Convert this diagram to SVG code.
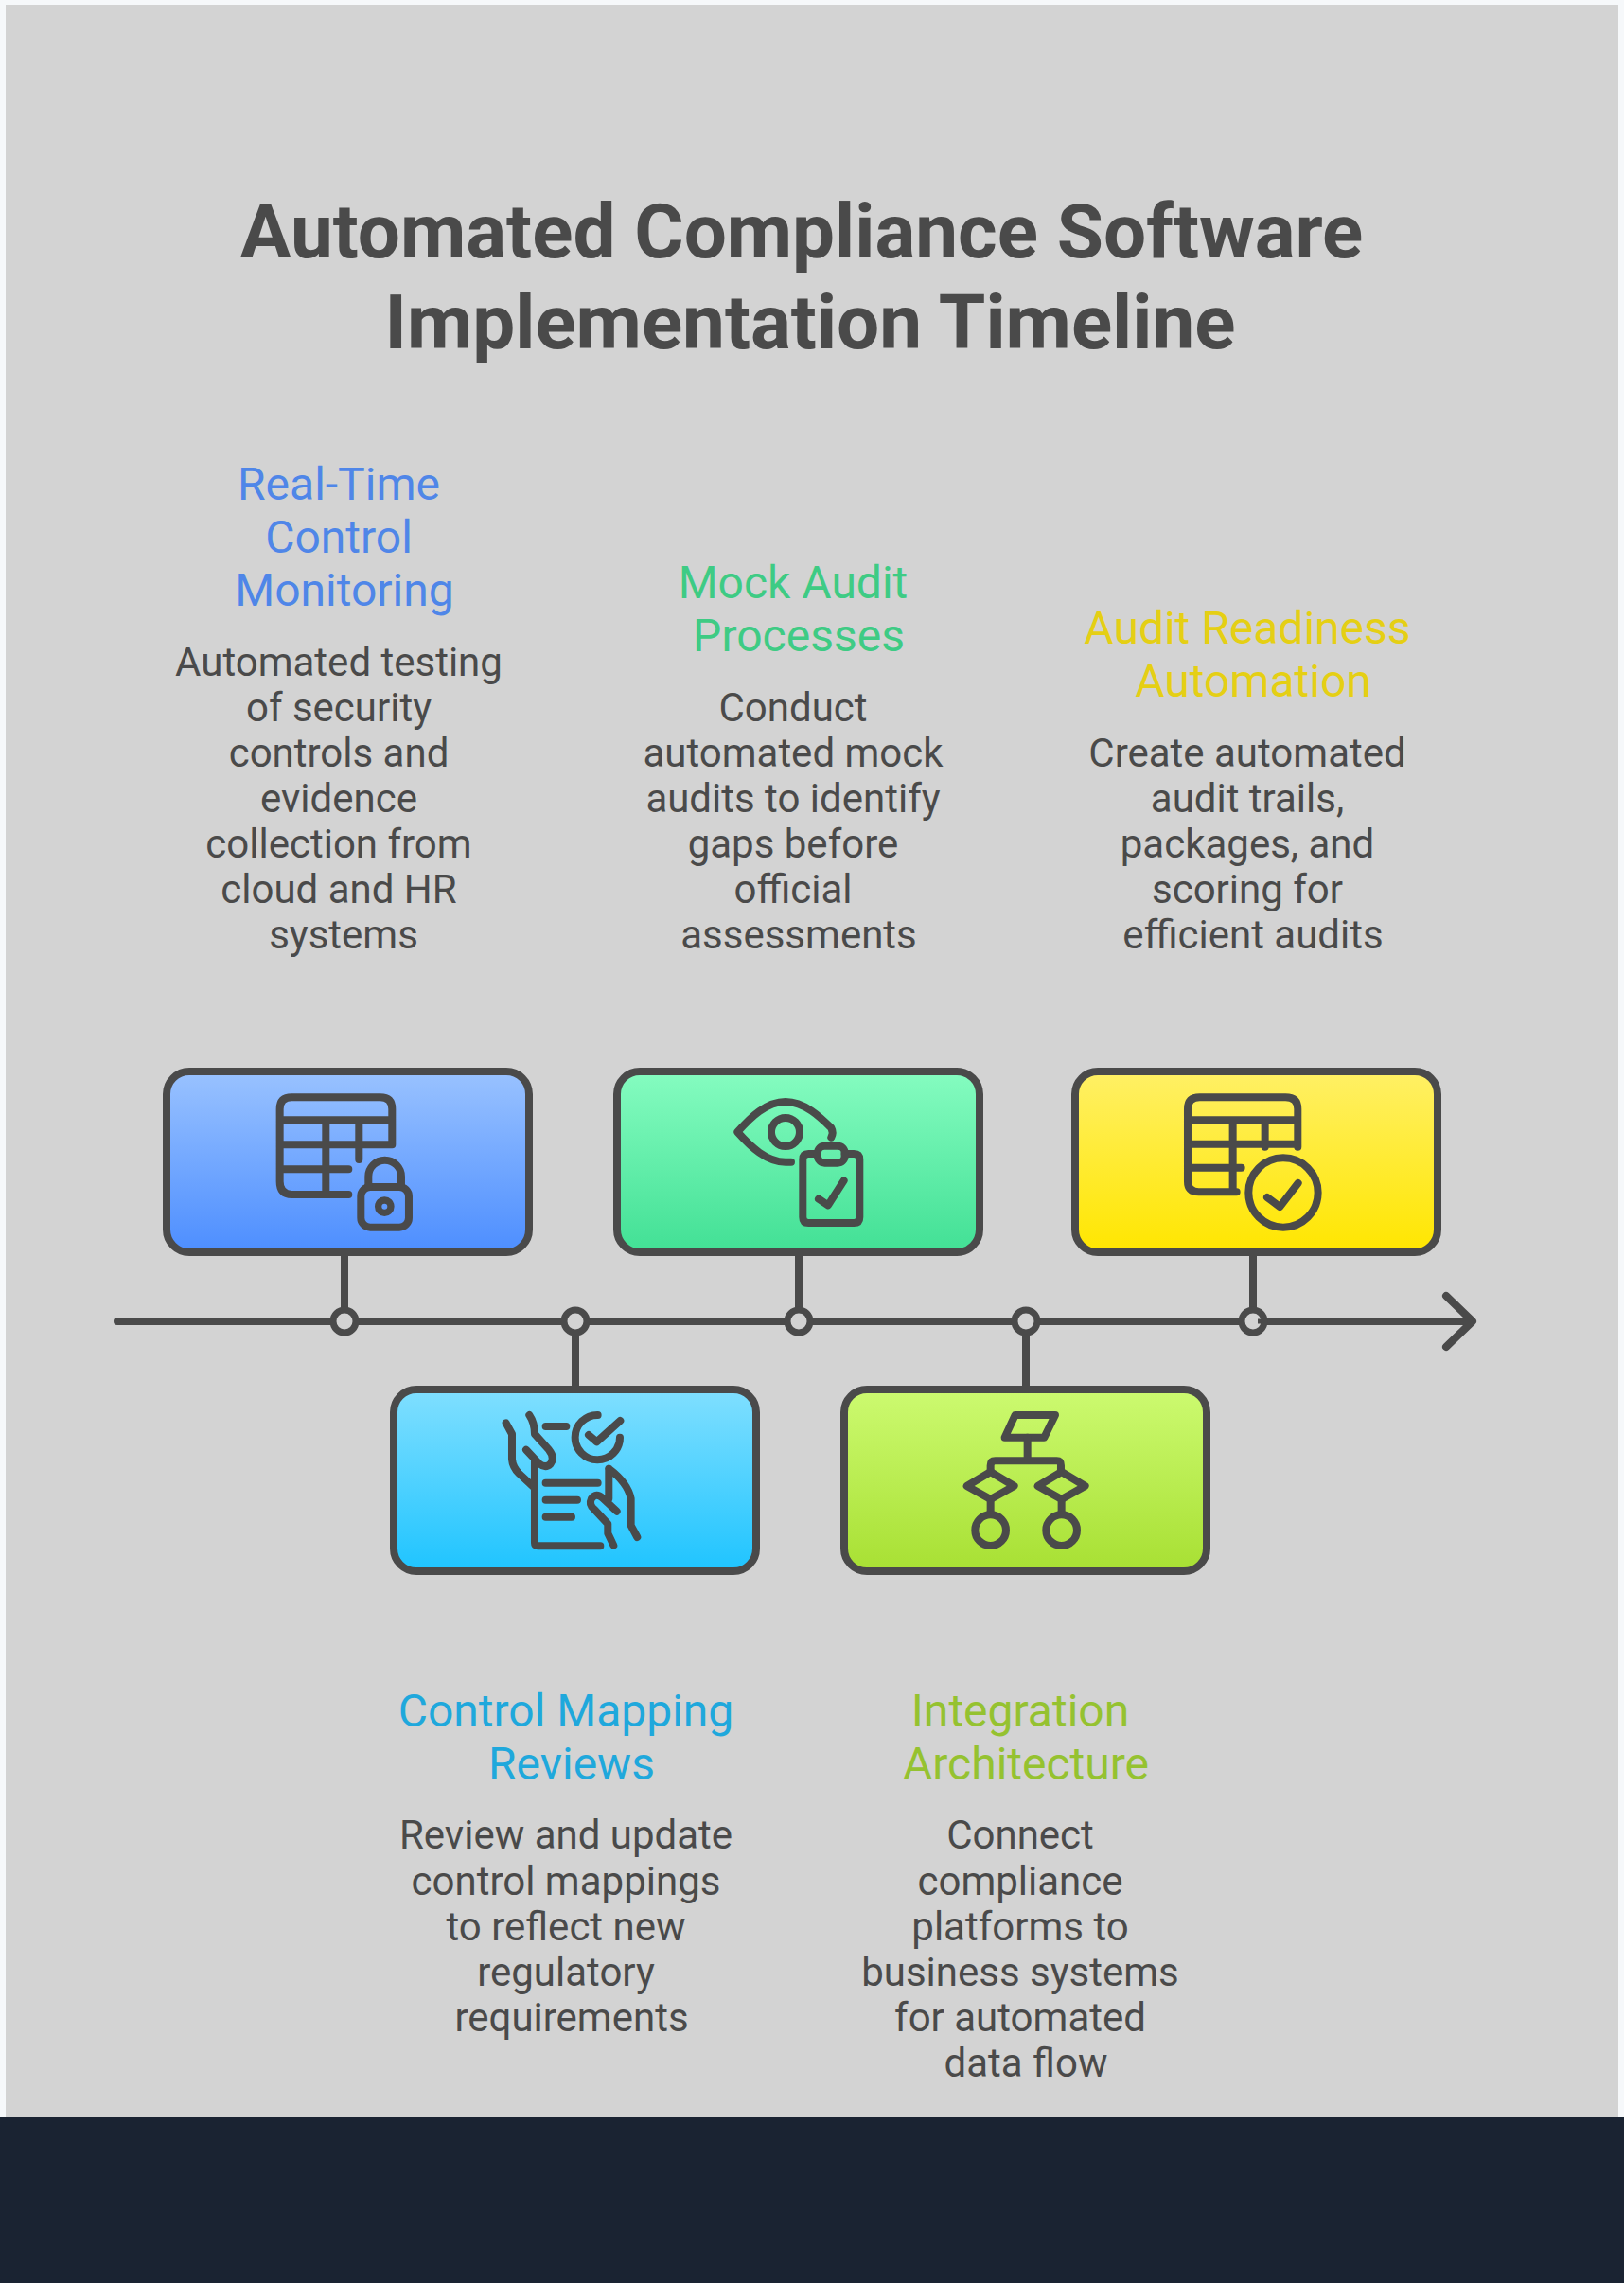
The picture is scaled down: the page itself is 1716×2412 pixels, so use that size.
<svg xmlns="http://www.w3.org/2000/svg" width="1716" height="2412" viewBox="0 0 1716 2412">
<style>
text{font-family:Roboto,"Liberation Sans",sans-serif;text-anchor:middle}
.title{font-size:80px;font-weight:700;fill:#4a4a4a}
.h{font-size:48px}
.b{font-size:42px;fill:#4a4a4a}
.box{stroke:#4a4a4a;stroke-width:8}
.ic{fill:none;stroke:#4a4a4a;stroke-width:24;stroke-linecap:round;stroke-linejoin:round}
.ln{fill:none;stroke:#4a4a4a;stroke-width:8;stroke-linecap:round;stroke-linejoin:round}
.dot{fill:#d3d3d3;stroke:#4a4a4a;stroke-width:7}
</style>
<defs>
<linearGradient id="gb" x1="0" y1="0" x2="0" y2="1"><stop offset="0" stop-color="#99c2ff"/><stop offset="1" stop-color="#4d8eff"/></linearGradient>
<linearGradient id="gg" x1="0" y1="0" x2="0" y2="1"><stop offset="0" stop-color="#85fcc0"/><stop offset="1" stop-color="#42e095"/></linearGradient>
<linearGradient id="gy" x1="0" y1="0" x2="0" y2="1"><stop offset="0" stop-color="#fff065"/><stop offset="1" stop-color="#ffe600"/></linearGradient>
<linearGradient id="gc" x1="0" y1="0" x2="0" y2="1"><stop offset="0" stop-color="#80dfff"/><stop offset="1" stop-color="#1fc4ff"/></linearGradient>
<linearGradient id="gl" x1="0" y1="0" x2="0" y2="1"><stop offset="0" stop-color="#ccfa70"/><stop offset="1" stop-color="#a8e033"/></linearGradient>
</defs>
<rect width="1716" height="2412" fill="#f6f8fa"/>
<rect x="6" y="5" width="1704" height="2235" fill="#d3d3d3"/>
<rect y="2237" width="1716" height="175" fill="#1a2332"/>
<g id="title">
<text class="title" x="847" y="272">Automated Compliance Software</text>
<text class="title" x="856" y="368">Implementation Timeline</text>
</g>
<g id="connectors">
<path class="ln" d="M124 1396H1555M1528 1369L1556 1396L1528 1423"/>
<path class="ln" d="M364 1325V1384M844 1325V1384M1324 1325V1384M608 1408V1466M1084 1408V1466"/>
</g>
<g id="dots">
<circle class="dot" cx="364" cy="1396" r="12"/>
<circle class="dot" cx="608" cy="1396" r="12"/>
<circle class="dot" cx="844" cy="1396" r="12"/>
<circle class="dot" cx="1084" cy="1396" r="12"/>
<circle class="dot" cx="1324" cy="1396" r="12"/>
<path d="M1329 1396H1336" stroke="#4a4a4a" stroke-width="5"/>
</g>
<g id="node-realtime">
<text class="h" fill="#4f86e8" x="358" y="528">Real-Time</text>
<text class="h" fill="#4f86e8" x="358" y="584">Control</text>
<text class="h" fill="#4f86e8" x="364" y="640">Monitoring</text>
<text class="b" x="358" y="714">Automated testing</text>
<text class="b" x="358" y="762">of security</text>
<text class="b" x="358" y="810">controls and</text>
<text class="b" x="358" y="858">evidence</text>
<text class="b" x="358" y="906">collection from</text>
<text class="b" x="358" y="954">cloud and HR</text>
<text class="b" x="363" y="1002">systems</text>
<rect class="box" x="176" y="1132" width="383" height="191" rx="24" fill="url(#gb)"/>
<g class="ic" transform="translate(100 1080) scale(.3333)">
<path d="M805 546H625Q587 546 587 505V275Q587 238 625 238H905Q943 238 943 275V388H587M587 310H943M587 466H805M733 310V546M838 310V435"/>
<rect x="844" y="522" width="152" height="128" rx="30"/>
<path d="M868 522V489A52 52 0 0 1 972 489V522"/>
<circle cx="919" cy="584" r="20" stroke-width="22"/>
</g>
</g>
<g id="node-mock">
<text class="h" fill="#3ecb84" x="838" y="632">Mock Audit</text>
<text class="h" fill="#3ecb84" x="844" y="688">Processes</text>
<text class="b" x="838" y="762">Conduct</text>
<text class="b" x="838" y="810">automated mock</text>
<text class="b" x="838" y="858">audits to identify</text>
<text class="b" x="838" y="906">gaps before</text>
<text class="b" x="838" y="954">official</text>
<text class="b" x="844" y="1002">assessments</text>
<rect class="box" x="652" y="1132" width="383" height="191" rx="24" fill="url(#gg)"/>
<g class="ic" transform="translate(600 1080) scale(.3333)">
<path d="M708 443H690C630 443 580 395 538 348C580 300 630 252 690 252C750 252 800 300 835 335Q843 350 835 365"/>
<circle cx="690" cy="348" r="45"/>
<path d="M792 417H763Q745 417 745 435V618Q745 636 763 636H907Q925 636 925 618V435Q925 417 907 417H878"/>
<rect x="792" y="392" width="86" height="54" rx="22"/>
<path d="M795 560L825 580L875 502"/>
</g>
</g>
<g id="node-readiness">
<text class="h" fill="#e5cf14" x="1318" y="680">Audit Readiness</text>
<text class="h" fill="#e5cf14" x="1324" y="736">Automation</text>
<text class="b" x="1318" y="810">Create automated</text>
<text class="b" x="1318" y="858">audit trails,</text>
<text class="b" x="1318" y="906">packages, and</text>
<text class="b" x="1318" y="954">scoring for</text>
<text class="b" x="1324" y="1002">efficient audits</text>
<rect class="box" x="1136" y="1132" width="383" height="191" rx="24" fill="url(#gy)"/>
<g class="ic" transform="translate(1100 1080) scale(.3333)">
<path d="M620 538H500Q465 538 465 505V275Q465 238 503 238H775Q814 238 814 275V395M465 310H814M465 386H814M465 461H635M608 310V538M710 310V395"/>
<circle cx="768" cy="540" r="110"/>
<path d="M717 555L757 585L815 510"/>
</g>
</g>
<g id="node-mapping">
<rect class="box" x="416" y="1468" width="383" height="192" rx="24" fill="url(#gc)"/>
<g class="ic" transform="translate(400 1420) scale(.3333)">
<path d="M404 250L423 285V365Q425 390 445 410L490 452"/>
<path d="M478 225Q495 250 495 285L540 335Q560 360 545 380Q530 395 510 380L468 335"/>
<path d="M495 370V630Q495 640 505 640H703"/>
<path d="M530 261H595M530 440H695M530 494H630M530 548H612"/>
<path d="M695 225A71 71 0 1 0 765 296"/>
<path d="M666 288L692 310L766 243"/>
<path d="M730 395V490M730 395Q790 440 800 490V575L820 612"/>
<path d="M755 530L710 488Q690 470 675 490Q665 510 685 525L727 570V600L745 638"/>
</g>
<text class="h" fill="#1fa8dc" x="598" y="1824">Control Mapping</text>
<text class="h" fill="#1fa8dc" x="604" y="1880">Reviews</text>
<text class="b" x="598" y="1953">Review and update</text>
<text class="b" x="598" y="2002">control mappings</text>
<text class="b" x="598" y="2050">to reflect new</text>
<text class="b" x="598" y="2098">regulatory</text>
<text class="b" x="604" y="2146">requirements</text>
</g>
<g id="node-integration">
<rect class="box" x="892" y="1468" width="383" height="192" rx="24" fill="url(#gl)"/>
<g class="ic" transform="translate(880 1420) scale(.3333)">
<path d="M578 225H705L670 296H545Z"/>
<path d="M617 296V370M500 400V385Q500 370 515 370H710Q723 370 723 385V400"/>
<path d="M500 405L575 450L500 492L425 450Z"/>
<path d="M725 405L800 450L725 492L650 450Z"/>
<path d="M500 492V540M725 492V540"/>
<circle cx="500" cy="590" r="49"/>
<circle cx="725" cy="590" r="49"/>
</g>
<text class="h" fill="#95c230" x="1078" y="1824">Integration</text>
<text class="h" fill="#95c230" x="1084" y="1880">Architecture</text>
<text class="b" x="1078" y="1953">Connect</text>
<text class="b" x="1078" y="2002">compliance</text>
<text class="b" x="1078" y="2050">platforms to</text>
<text class="b" x="1078" y="2098">business systems</text>
<text class="b" x="1078" y="2146">for automated</text>
<text class="b" x="1084" y="2194">data flow</text>
</g>
</svg>
